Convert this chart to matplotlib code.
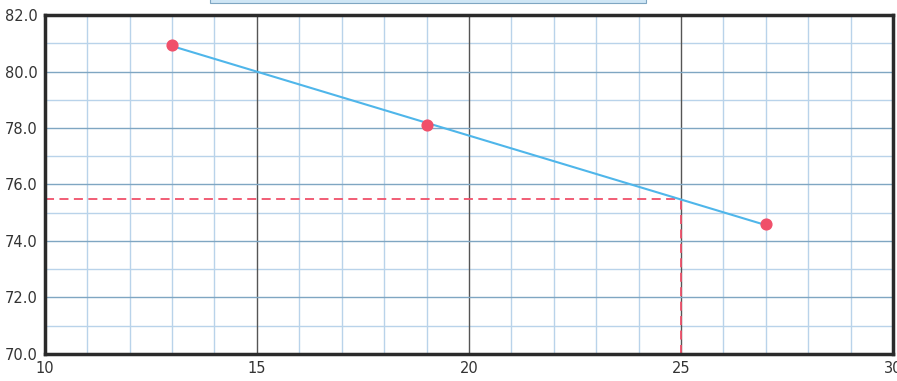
import numpy as np
import matplotlib
matplotlib.use("Agg")
import matplotlib.pyplot as plt

# data
x_vals = [13, 19, 27]
y_vals = [80.95, 78.1, 74.6]
x_read = 25  # reading taken at this x

x_ticks = [10, 15, 20, 25, 30]
y_ticks = [70.0, 72.0, 74.0, 76.0, 78.0, 80.0, 82.0]

fig = plt.figure(figsize=(8.97, 3.81), dpi=100)
ax = fig.add_axes([0.050, 0.071, 0.9455, 0.8895])

# grid: fine blue lines every unit, darker at the labelled ticks
for xv in np.arange(10, 31, 1):
    if xv % 5 == 0:
        ax.axvline(xv, color="#555555", lw=1.0, zorder=1)
    else:
        ax.axvline(xv, color="#b9d3ea", lw=1.0, zorder=0)
for yv in np.arange(70, 83, 1):
    if yv % 2 == 0:
        ax.axhline(yv, color="#7fa6c2", lw=1.0, zorder=1)
    else:
        ax.axhline(yv, color="#b9d3ea", lw=1.0, zorder=0)

# linear trend line between the first and last point
k, b = np.polyfit(x_vals, y_vals, 1)
xs = np.array([x_vals[0], x_vals[-1]])
ax.plot(xs, k * xs + b, color="#4fb6ea", lw=1.5, zorder=3)

ax.scatter(x_vals, y_vals, s=60, color="#f0506a", zorder=4)

# read-off lines
y_read = k * x_read + b
ax.plot([10, x_read], [y_read, y_read], color="#f0506a", lw=1.3, ls=(0, (5, 3)), zorder=2)
ax.plot([x_read, x_read], [70, y_read], color="#f0506a", lw=1.3, ls=(0, (5, 3)), zorder=2)

ax.set_xlim(10, 30)
ax.set_ylim(70, 82)
ax.set_xticks(x_ticks)
ax.set_yticks(y_ticks)
ax.set_yticklabels([f"{v:.1f}" for v in y_ticks])
ax.tick_params(length=0, labelsize=10.5, colors="#333333", pad=5)
for s in ax.spines.values():
    s.set_color("#2a2a2a")
    s.set_linewidth(2.5)

# edge of the title box cut off at the top of the scan
fig.patches.append(plt.Rectangle((0.234, 0.993), 0.486, 0.02, transform=fig.transFigure,
                                 facecolor="#cfe6f5", edgecolor="#7fa6c2", lw=0.8))

fig.savefig("out.png", dpi=100)
